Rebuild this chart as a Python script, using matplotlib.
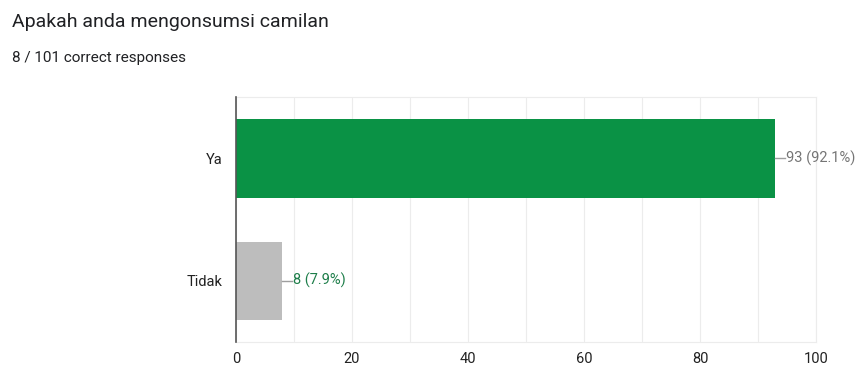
import matplotlib as mpl
mpl.use('Agg')
import matplotlib.pyplot as plt
import numpy as np

plt.rcParams['font.family'] = ['Roboto', 'DejaVu Sans']

# data
categories = ['Ya', 'Tidak']
counts = [93, 8]
percents = ['92.1%', '7.9%']
total = 101
bar_colors = ['#0a9245', '#bdbdbd']
label_colors = ['#757575', '#1e7e4a']

fig = plt.figure(figsize=(8.62, 3.66), dpi=100)
ax = fig.add_axes([0.2738, 0.0656, 0.6729, 0.669])

y = np.arange(len(categories))
ax.barh(y, counts, height=0.64, color=bar_colors, zorder=2)

# value labels with small leader line
for i, (c, p) in enumerate(zip(counts, percents)):
    ax.plot([c, c + 1.7], [i, i], color='#9e9e9e', lw=1, zorder=3, clip_on=False)
    ax.text(c + 1.8, i, '{} ({})'.format(c, p), va='center', ha='left',
            fontsize=10.5, color=label_colors[i])

ax.set_xlim(0, 100)
ax.set_ylim(1.5, -0.5)
ax.set_yticks(y)
ax.set_yticklabels(categories, fontsize=10.5, color='#222222')
ax.set_xticks(np.arange(0, 101, 20))
ax.set_xticklabels([str(v) for v in range(0, 101, 20)], fontsize=10.5, color='#222222')
ax.set_xticks(np.arange(0, 101, 10), minor=True)
ax.tick_params(axis='both', which='both', length=0)
ax.tick_params(axis='y', pad=10)
ax.tick_params(axis='x', pad=7)
ax.grid(axis='x', which='both', color='#ececec', lw=0.8, zorder=0)

for s in ['top', 'right', 'bottom']:
    ax.spines[s].set_color('#ececec')
    ax.spines[s].set_linewidth(0.8)
ax.spines['left'].set_color('#555555')
ax.spines['left'].set_linewidth(1.2)
ax.spines['left'].set_zorder(4)

fig.text(12 / 862, 1 - 22 / 366, 'Apakah anda mengonsumsi camilan', fontsize=14,
         color='#202124', va='center', ha='left')
fig.text(12 / 862, 1 - 58 / 366, '{} / {} correct responses'.format(counts[1], total),
         fontsize=11, color='#202124', va='center', ha='left')

plt.savefig('out.png', dpi=100)
